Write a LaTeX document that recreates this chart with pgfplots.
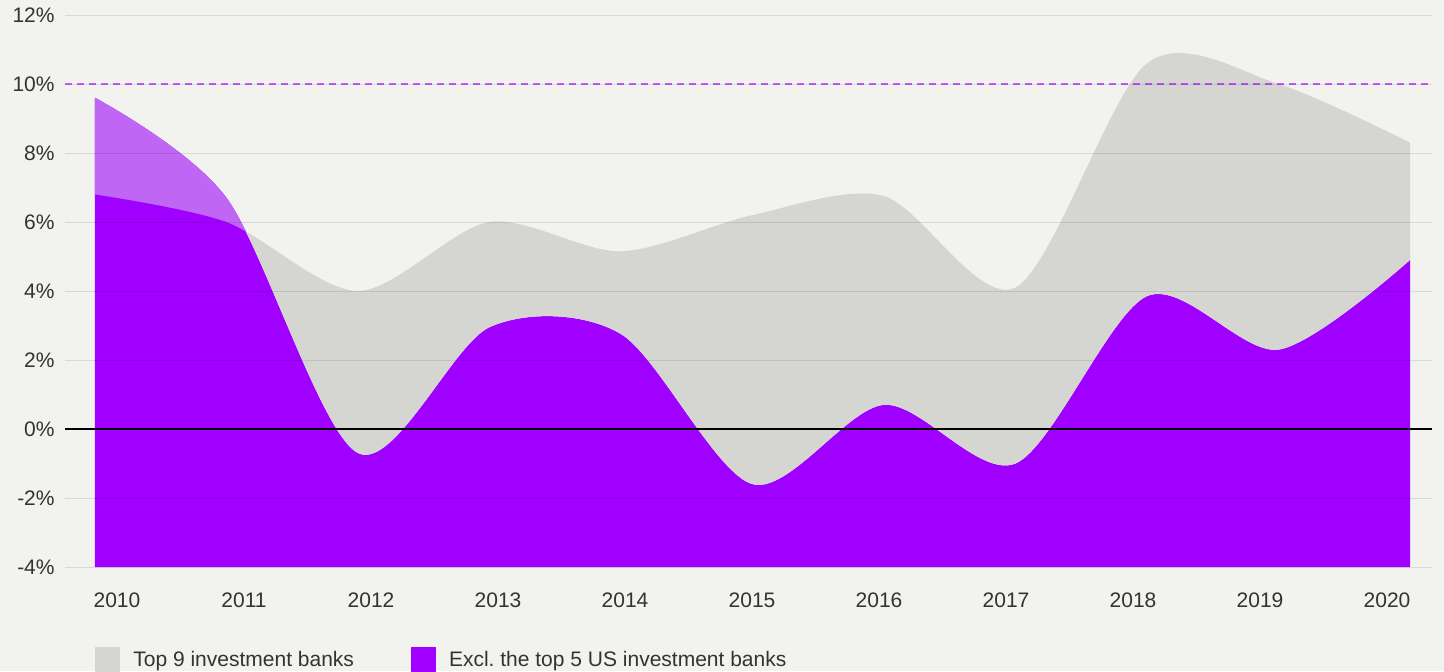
\documentclass[border=0pt]{standalone}
\usepackage{fontspec}
\setmainfont{Liberation Sans}
\usepackage{pgfplots}
\pgfplotsset{compat=1.18}
\usepgfplotslibrary{fillbetween}
\definecolor{bg}{HTML}{F2F2EE}
\definecolor{purp}{HTML}{A000FF}
\definecolor{lpurp}{HTML}{C066F4}
\definecolor{greyfill}{HTML}{D5D5D1}
\definecolor{txt}{HTML}{333333}

\begin{document}
\begin{tikzpicture}
\begin{axis}[
  at={(0pt,0pt)}, anchor=south west,
  scale only axis, width=683.5pt, height=276pt,
  xmin=-0.2281, xmax=10.167, ymin=-4, ymax=12,
  axis line style={draw=none},
  major tick length=0pt,
  set layers, axis on top,
  ytick={-4,-2,0,2,4,6,8,10,12},
  yticklabels={-4\%,-2\%,0\%,2\%,4\%,6\%,8\%,10\%,12\%},
  ymajorgrids,
  grid style={black, opacity=0.1, line width=0.5pt},
  xtick={0.1673,1.1331,2.0989,3.0646,4.0304,4.9962,5.9620,6.9278,7.8935,8.8593,9.8251},
  xticklabels={2010,2011,2012,2013,2014,2015,2016,2017,2018,2019,2020},
  tick label style={font=\fontsize{10.5}{12}\selectfont, text=txt},
  xticklabel style={anchor=north, inner sep=0pt, yshift=-12.5pt},
  yticklabel style={anchor=east, inner sep=0pt, xshift=-5pt},
  legend style={at={(0,0)}, anchor=north west, xshift=15pt, yshift=-40pt,
    draw=none, fill=none, inner sep=0pt, font=\fontsize{10.5}{12}\selectfont,
    text=txt, legend columns=2, nodes={inner sep=0pt},
    /tikz/every odd column/.append style={column sep=6.5pt},
    /tikz/every even column/.append style={column sep=28.5pt}},
  legend image code/.code={\fill[#1] (0pt,-6.25pt) rectangle (12.5pt,6.25pt);},
]
\begin{pgfonlayer}{axis background}
  \fill[bg] ([xshift=-32.5pt,yshift=-52pt]rel axis cs:0,0) rectangle ([xshift=6pt,yshift=7.5pt]rel axis cs:1,1);
\end{pgfonlayer}
% excl. the top 5 US investment banks
\addplot[name path=A, draw=none, smooth, forget plot] coordinates {
  (0,9.6) (1,6.7) (2,-0.7) (3,2.95) (4,2.75) (5,-1.6) (6,0.7) (7,-1.0) (8,3.85) (9,2.3) (10,4.9)};
% top 9 investment banks
\addplot[name path=B, draw=none, smooth, forget plot] coordinates {
  (0,6.8) (1,6.0) (2,4.0) (3,6.0) (4,5.15) (5,6.2) (6,6.75) (7,4.1) (8,10.6) (9,10.0) (10,8.3)};
\addplot[name path=base, draw=none, forget plot] coordinates {(0,-4) (10,-4)};

\addplot[fill=purp, draw=none, forget plot] fill between[of=A and base];
\addplot[fill=greyfill, draw=none, forget plot] fill between[of=A and B, split,
  every segment no 0/.style={fill=lpurp}];

\addplot[purp, opacity=0.6, line width=1pt, dash pattern=on 3.5pt off 2.5pt, forget plot]
  coordinates {(-0.2281,10) (10.167,10)};
\addplot[black, line width=1pt, forget plot] coordinates {(-0.2281,0) (10.167,0)};

\addlegendimage{fill=greyfill, draw=none}
\addlegendentry{Top 9 investment banks}
\addlegendimage{fill=purp, draw=none}
\addlegendentry{Excl.\ the top 5 US investment banks}
\end{axis}
\pgfresetboundingbox
\path[use as bounding box] (-32.5pt,-52pt) rectangle (689.5pt,283.5pt);
\end{tikzpicture}
\end{document}
